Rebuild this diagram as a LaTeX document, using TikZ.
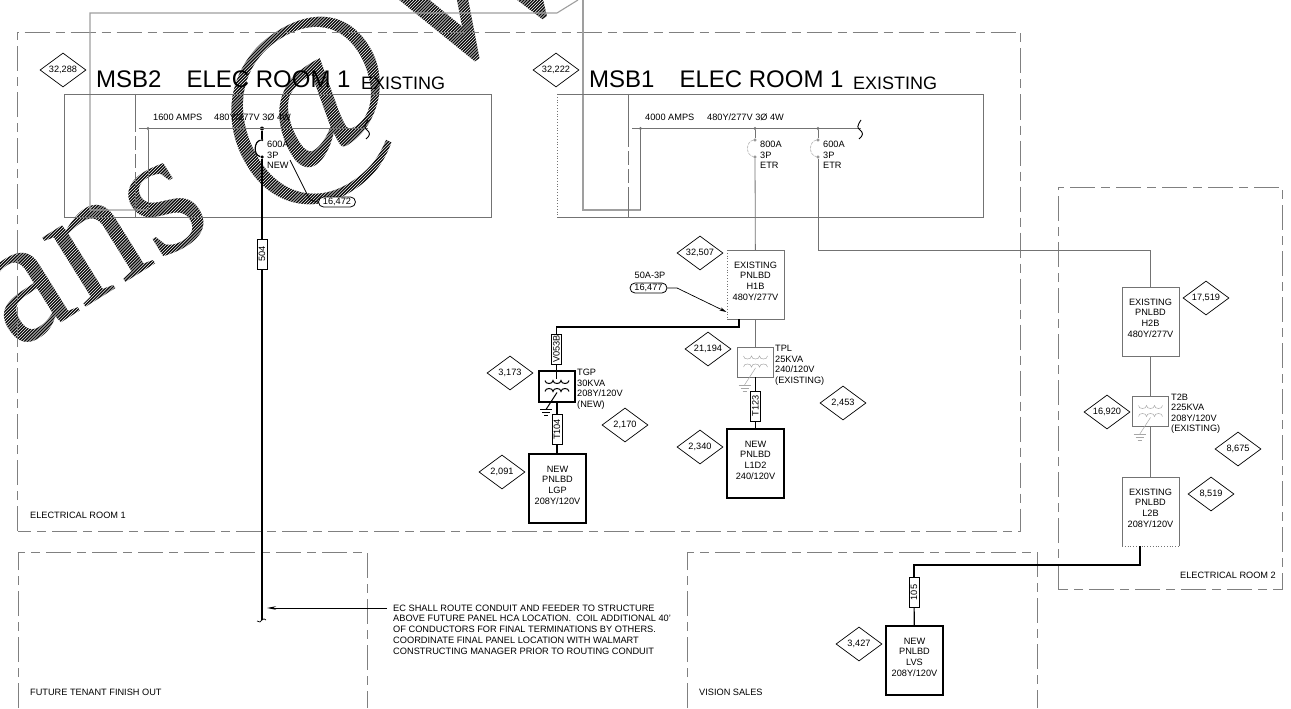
\documentclass[tikz,border=0pt]{standalone}
\usepackage{fontspec}
\setmainfont{Liberation Sans}
\newfontfamily\wmfont{Liberation Serif}
\usetikzlibrary{shapes.geometric,shapes.misc,arrows.meta}
\definecolor{ln}{gray}{0.45}
\definecolor{dashc}{gray}{0.5}
\definecolor{wm}{gray}{0.05}
\tikzset{
 x=1pt,y=-1pt,
 small/.style={font=\fontsize{9.2}{10.6}\selectfont},
 glabel/.style={small,inner sep=0,anchor=base west,text=black},
 blocklabel/.style={small,inner sep=0,anchor=north west,align=left,text=black},
 tag/.style={diamond,draw=black,line width=.7pt,inner sep=0,minimum width=46,minimum height=34,aspect=1.35,small,text=black},
 pill/.style={rounded rectangle,draw=black,line width=.8pt,fill=white,inner sep=0,minimum width=37,minimum height=10,small,text=black},
 roomline/.style={draw=dashc,line width=.9pt,dash pattern=on 25pt off 6pt on 9pt off 6pt},
 gline/.style={draw=ln,line width=.8pt},
 wide/.style={draw=gray!75,line width=1.1pt},
 feeder/.style={draw=black,line width=1.9pt},
 drop/.style={draw=black,line width=1.2pt},
 oldpanel/.style={rectangle,inner sep=0,outer sep=0,minimum width=57,minimum height=69,small,align=center,text=black},
 newpanel/.style={rectangle,draw=black,line width=1.6pt,inner sep=0,outer sep=0,minimum width=57,minimum height=69,small,align=center,text=black},
 cable/.style={rectangle,draw=black,line width=.9pt,fill=white,inner sep=0,minimum width=30,minimum height=10,small,rotate=90,text=black},
 oldx/.style={rectangle,draw=ln,line width=.8pt,inner sep=0,outer sep=0,minimum width=36,minimum height=30},
 newx/.style={rectangle,draw=black,line width=1.5pt,inner sep=0,outer sep=0,minimum width=36,minimum height=31},
 pt/.style={circle,draw=ln,line width=.6pt,fill=white,inner sep=0,minimum size=2.6},
 ptblack/.style={circle,fill=black,inner sep=0,minimum size=4},
 wmtext/.style={anchor=center,inner sep=0,rotate=32,text=wm},
}
% transformer windings and ground: centre x, centre y, options
\newcommand\windings[3]{%
 \draw[#3] (#1-12,#2-6) .. controls +(0,4) and +(0,4) .. ++(8,0) .. controls +(0,4) and +(0,4) .. ++(8,0) .. controls +(0,4) and +(0,4) .. ++(8,0);
 \draw[#3] (#1-12,#2+5) .. controls +(0,-4) and +(0,-4) .. ++(8,0) .. controls +(0,-4) and +(0,-4) .. ++(8,0) .. controls +(0,-4) and +(0,-4) .. ++(8,0);
 \draw[#3] (#1,#2+6) -- (#1-11,#2+23);
 \draw[#3] (#1-17,#2+23) -- (#1-5,#2+23);
 \draw[#3] (#1-15,#2+26) -- (#1-7,#2+26);
 \draw[#3] (#1-13,#2+29) -- (#1-9,#2+29);
}
\newcommand\busend[2]{%
 \draw[draw=black,line width=.9pt] (#1,#2-9) .. controls (#1-4,#2-3) and (#1-4,#2-1) .. (#1-1,#2+1) .. controls (#1+2.5,#2+4) and (#1+2.5,#2+6) .. (#1-2,#2+10);
}
\begin{document}
\begin{tikzpicture}
\useasboundingbox (0,0) rectangle (1291,709);
\clip (0,0) rectangle (1291,709);
\fill[white] (0,0) rectangle (1291,709);

% watermark
\node[anchor=base west,inner sep=0,rotate=32,text=wm,font=\fontsize{178}{178}\wmfont\selectfont] (wmark) at (-60,399) {vans};
\node[wmtext,font=\fontsize{205}{205}\wmfont\selectfont] (wmat) at (313,113) {@};
\node[wmtext,font=\fontsize{215}{215}\wmfont\selectfont] (wmw) at (473,-22) {W};
\foreach \c in {200,203.1,...,700}{\draw[white,line width=.55pt] (\c,0) -- (0,\c);}

% rooms
\draw[roomline] (17.5,531) -- (17.5,32) -- (1020,32) -- (1020,531) -- cycle;
\draw[roomline] (1058,589) -- (1058,187) -- (1282,187) -- (1282,589) -- cycle;
\draw[roomline] (18,708) -- (18,552) -- (367,552) -- (367,708);
\draw[roomline] (687,708) -- (687,552) -- (1037,552) -- (1037,708);
\node[glabel] (rm1) at (30,518) {ELECTRICAL ROOM 1};
\node[glabel] (rm2) at (1180,578) {ELECTRICAL ROOM 2};
\node[glabel] (rm3) at (30,695) {FUTURE TENANT FINISH OUT};
\node[glabel] (rm4) at (699,695) {VISION SALES};

% background frame lines
\draw[wide] (578,0) -- (557,13) -- (90,13) -- (90,210) -- (148,210);
\draw[wide] (583,0) -- (583,210) -- (640.5,210);

% MSB2
\node[inner sep=0,anchor=base west,font=\fontsize{24}{24}\selectfont] (t2) at (96,88) {MSB2\hspace{25pt}ELEC ROOM 1};
\node[inner sep=0,anchor=base west,font=\fontsize{18}{18}\selectfont] (t2b) at (361,89) {EXISTING};
\draw[gline] (64,94) rectangle (491.5,217);
\draw[gline] (135.7,94) -- (135.7,118);
\draw[gline,dash pattern=on 14pt off 4pt] (135.7,118) -- (135.7,200);
\draw[gline] (135.7,200) -- (135.7,217);
\node[pt] (b2a) at (148,128.5) {};
\node[ptblack] (b2b) at (262,128.5) {};
\coordinate (b2start) at (138.5,128.5);
\coordinate (b2end) at (368,128.5);
\draw[gline] (b2start) -- (b2end);
\draw[gline] (b2a) -- (148,210);
\busend{368}{129}
\node[glabel] (a2) at (153,120) {1600 AMPS};
\node[glabel] (v2) at (214,120) {480Y/277V 3Ø 4W};
\node[ptblack,minimum size=2.5] (b2c) at (262,140) {};
\node[ptblack,minimum size=3.5] (b2d) at (262,157) {};
\draw[drop,line width=1.6pt] (b2b) -- (b2c);
\draw[drop,line width=1.2pt] (b2c) .. controls (254,141) and (253,155) .. (b2d);
\node[blocklabel] (brk2) at (267,141) {600A\\3P\\NEW};
\node[cable] (c504) at (262,254) {504};
\coordinate (feedend) at (262,620);
\draw[drop,line width=1.5pt] (b2d) -- (c504);
\draw[drop,line width=1.5pt] (c504) -- (feedend);
\draw[draw=black,line width=.7pt] (257,621) .. controls (259,623) and (261,622) .. (feedend) .. controls (263,618) and (265,619) .. (266,620);
\node[pill] (p472) at (337,202) {16,472};
\coordinate (l472) at (290,160);
\draw[draw=black,line width=.7pt] (l472) -- (310,200) -- (p472.west);

% MSB1
\node[inner sep=0,anchor=base west,font=\fontsize{24}{24}\selectfont] (t1) at (589,88) {MSB1\hspace{25pt}ELEC ROOM 1};
\node[inner sep=0,anchor=base west,font=\fontsize{18}{18}\selectfont] (t1b) at (853,89) {EXISTING};
\draw[gline] (557,217) -- (983,217) -- (983,94) -- (557,94);
\draw[gline,dotted] (557,94) -- (557,217);
\draw[gline] (628,94) -- (628,133);
\draw[gline,dash pattern=on 14pt off 4pt] (628,133) -- (628,197);
\draw[gline] (628,197) -- (628,217);
\node[pt] (b1a) at (640.5,128.5) {};
\node[pt] (b1b) at (755,128.5) {};
\node[pt] (b1c) at (818,128.5) {};
\coordinate (b1start) at (632,128.5);
\coordinate (b1end) at (861,128.5);
\draw[gline] (b1start) -- (b1end);
\draw[gline] (b1a) -- (640.5,210);
\busend{861}{129}
\node[glabel] (a1) at (645,120) {4000 AMPS};
\node[glabel] (v1) at (707,120) {480Y/277V 3Ø 4W};
\node[pt] (b1d) at (755,140) {};
\node[pt] (b1e) at (755,157) {};
\node[pt] (b1f) at (818,140) {};
\node[pt] (b1g) at (818,157) {};
\draw[gline] (b1b) -- (b1d);
\draw[gline] (b1c) -- (b1f);
\draw[draw=gray!60,line width=.6pt,dash pattern=on 3pt off 1pt] (b1d) .. controls (746,141) and (745,155) .. (b1e);
\draw[draw=gray!60,line width=.6pt,dash pattern=on 3pt off 1pt] (b1f) .. controls (809,141) and (808,155) .. (b1g);
\node[blocklabel] (brk1a) at (760,141) {800A\\3P\\ETR};
\node[blocklabel] (brk1b) at (823,141) {600A\\3P\\ETR};

% H1B branch
\node[oldpanel] (h1b) at (755.5,284.5) {EXISTING\\PNLBD\\H1B\\480Y/277V\\[-3.5pt]\mbox{}};
\draw[gline] (h1b.south west) -- (h1b.south east) -- (h1b.north east) -- (h1b.north west);
\draw[gline,dotted] (h1b.north west) -- (h1b.south west);
\draw[gline] (b1e) -- (h1b);
\node[oldx] (tpl) at (755.5,362) {};
\windings{755.5}{362}{draw=gray!70,line width=.5pt}
\node[blocklabel] (tpll) at (775,345) {TPL\\25KVA\\240/120V\\(EXISTING)};
\node[cable] (t123) at (755.5,406) {T123};
\node[newpanel] (l1d2) at (755.5,463.5) {NEW\\PNLBD\\L1D2\\240/120V\\[-3.5pt]\mbox{}};
\draw[gline] (h1b) -- (tpl);
\draw[draw=black,line width=1.6pt] (tpl) -- (t123);
\draw[draw=black,line width=1.2pt] (t123) -- (l1d2);

\node[pill] (p477) at (648.5,288) {16,477};
\node[small,inner sep=0] (a477) at (650,275) {50A-3P};
\coordinate (l477) at (677,288);
\coordinate (l477b) at (726.5,312);
\draw[draw=black,line width=.7pt,-{Stealth[length=7pt,width=3.5pt]}] (p477.east) -- (l477) -- (l477b);

% TGP branch
\coordinate (h1bout) at (739,319);
\node[cable] (v053) at (556.5,349) {V053B};
\node[newx] (tgp) at (557,386.5) {};
\windings{557}{386.5}{draw=black,line width=1pt}
\node[blocklabel] (tgpl) at (577,369) {TGP\\30KVA\\208Y/120V\\(NEW)};
\node[cable] (t104) at (557,429.5) {T104};
\node[newpanel] (lgp) at (557.5,488.5) {NEW\\PNLBD\\LGP\\208Y/120V\\[-3.5pt]\mbox{}};
\draw[feeder] (h1bout) -- (739,327) -- (556.5,327) -- (v053);
\draw[drop] (v053) -- (556.5,379);
\draw[drop] (557,402) -- (t104);
\draw[drop] (t104) -- (557,454);

% 600A branch to room 2
\node[oldpanel] (h2b) at (1150.5,321.5) {EXISTING\\PNLBD\\H2B\\480Y/277V\\[-3.5pt]\mbox{}};
\draw[gline] (h2b.south west) rectangle (h2b.north east);
\draw[gline] (b1g) -- (818,250) -- (1150.5,250) -- (h2b);
\node[oldx] (t2bx) at (1150.5,411.5) {};
\windings{1150.5}{411.5}{draw=gray!70,line width=.5pt}
\node[blocklabel] (t2bl) at (1171,393.5) {T2B\\225KVA\\208Y/120V\\(EXISTING)};
\node[oldpanel] (l2b) at (1150.5,511.5) {EXISTING\\PNLBD\\L2B\\208Y/120V\\[-3.5pt]\mbox{}};
\draw[gline] (l2b.south west) -- (l2b.north west) -- (l2b.north east) -- (l2b.south east);
\draw[gline,dotted] (l2b.south west) -- (l2b.south east);
\draw[gline] (h2b) -- (t2bx);
\draw[gline] (t2bx) -- (l2b);

% LVS
\coordinate (l2bout) at (1140,546);
\node[cable] (c105) at (914,592.5) {105};
\node[newpanel] (lvs) at (914.5,660.5) {NEW\\PNLBD\\LVS\\208Y/120V\\[-3.5pt]\mbox{}};
\draw[feeder] (l2bout) -- (1140,565) -- (914,565) -- (c105);
\draw[drop] (c105) -- (lvs);

% note
\coordinate (notearrow) at (267,608);
\node[blocklabel,font=\fontsize{9.25}{10.75}\selectfont] (note) at (393,604.5) {EC SHALL ROUTE CONDUIT AND FEEDER TO STRUCTURE\\ABOVE FUTURE PANEL HCA LOCATION.\ \ COIL ADDITIONAL 40'\\OF CONDUCTORS FOR FINAL TERMINATIONS BY OTHERS.\\COORDINATE FINAL PANEL LOCATION WITH WALMART\\CONSTRUCTING MANAGER PRIOR TO ROUTING CONDUIT};
\draw[draw=black,line width=.8pt,-{Stealth[length=9pt,width=3.5pt]}] (387,608) -- (notearrow);

% tags
\node[tag] (d1) at (63,70) {32,288};
\node[tag] (d2) at (556,70) {32,222};
\node[tag] (d3) at (700,253) {32,507};
\node[tag] (d4) at (708,349) {21,194};
\node[tag] (d5) at (510,373) {3,173};
\node[tag] (d6) at (625,425) {2,170};
\node[tag] (d7) at (843,403) {2,453};
\node[tag] (d8) at (700,447) {2,340};
\node[tag] (d9) at (502,472) {2,091};
\node[tag] (d10) at (1206,298) {17,519};
\node[tag] (d11) at (1107,412) {16,920};
\node[tag] (d12) at (1238,449) {8,675};
\node[tag] (d13) at (1211,494) {8,519};
\node[tag] (d14) at (859,644) {3,427};
\end{tikzpicture}
\end{document}
